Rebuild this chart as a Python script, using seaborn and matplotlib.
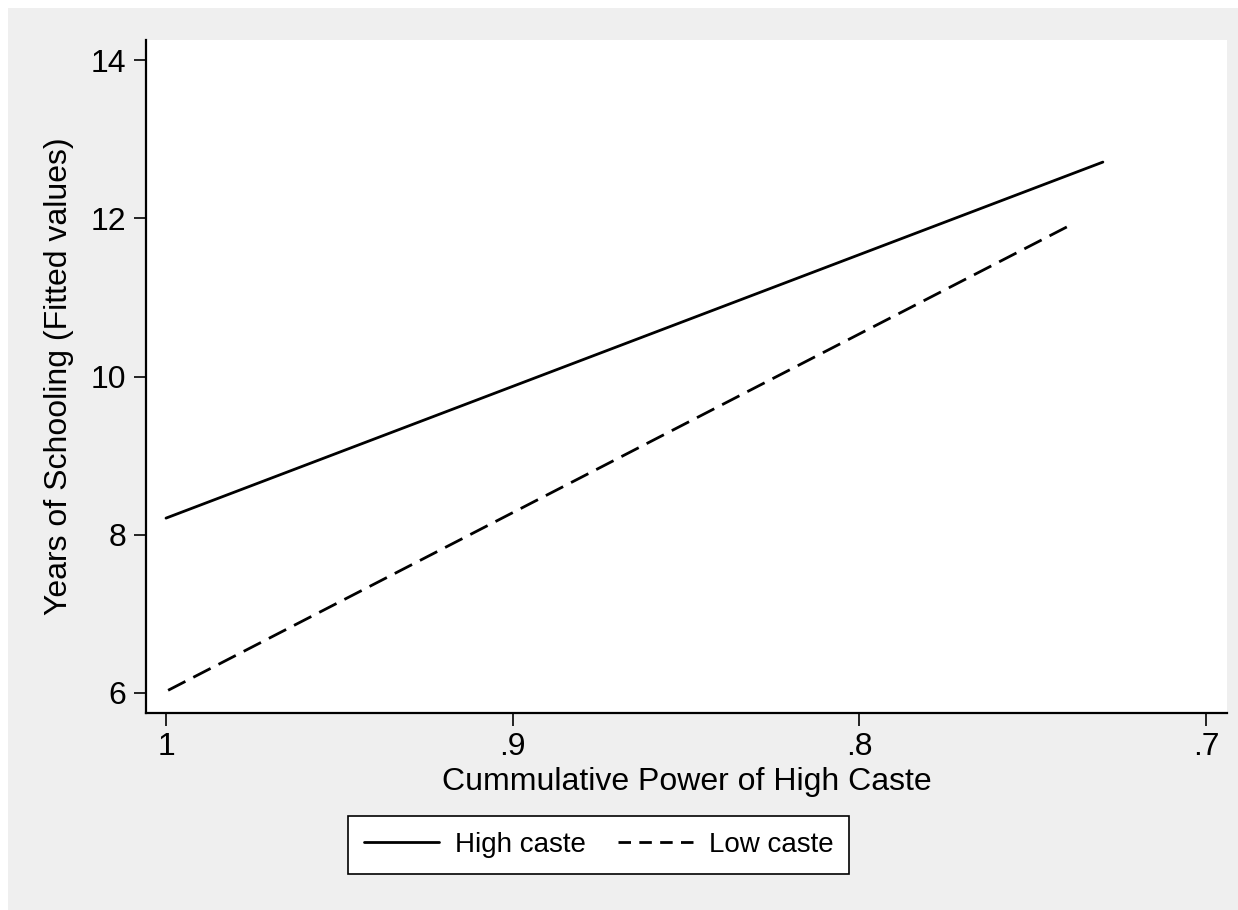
import matplotlib
matplotlib.use("Agg")
import matplotlib.pyplot as plt
import seaborn as sns
import pandas as pd
from matplotlib.patches import Rectangle
from matplotlib.lines import Line2D

# Data (fitted lines, endpoints)
groups = ["High caste", "Low caste"]
high_x = [1.0, 0.7298]
high_y = [8.21, 12.71]
low_x = [1.0, 0.7402]
low_y = [6.02, 11.89]
xticks = [1.0, 0.9, 0.8, 0.7]
xtick_labels = ["1", ".9", ".8", ".7"]
yticks = [6, 8, 10, 12, 14]

df = pd.DataFrame({
    "x": high_x + low_x,
    "y": high_y + low_y,
    "group": [groups[0]] * len(high_x) + [groups[1]] * len(low_x),
})

sns.set_style("white")
plt.rcParams["font.family"] = ["Liberation Sans", "DejaVu Sans"]
plt.rcParams["text.color"] = "black"
FS = 23

W, H = 1238, 910
fig = plt.figure(figsize=(W / 100, H / 100), dpi=100, facecolor="white")
# gray Stata-like graph region
fig.patches.append(Rectangle((8 / W, 0), 1 - 8 / W, 1 - 8 / H, transform=fig.transFigure,
                             facecolor="#efefef", edgecolor="none", zorder=-10))

ax = fig.add_axes([146 / W, 1 - 713 / H, (1227 - 146) / W, (713 - 40) / H])
ax.set_facecolor("white")

dash_map = {"High caste": "", "Low caste": (7, 3.2)}
sns.lineplot(data=df, x="x", y="y", style="group", dashes=dash_map, color="black",
             linewidth=2.0, ax=ax, legend=False)

ax.set_xlim(1.00577, 0.694)
ax.set_ylim(5.747, 14.253)
ax.set_xticks(xticks)
ax.set_xticklabels(xtick_labels)
ax.set_yticks(yticks)
ax.set_yticklabels([str(v) for v in yticks])

for s in ["top", "right"]:
    ax.spines[s].set_visible(False)
for s in ["left", "bottom"]:
    ax.spines[s].set_color("black")
    ax.spines[s].set_linewidth(1.6)

ax.tick_params(axis="both", which="major", direction="out", length=9, width=1.2,
               color="black", labelsize=FS, labelcolor="black", pad=5,
               left=True, bottom=True)
ax.set_xlabel("Cummulative Power of High Caste", fontsize=FS, color="black", labelpad=3)
ax.set_ylabel("Years of Schooling (Fitted values)", fontsize=FS, color="black", labelpad=12)

leg_font = {"family": ["Liberation Sans", "DejaVu Sans"], "size": 20}
handles = [Line2D([], [], color="black", linewidth=2.0),
           Line2D([], [], color="black", linewidth=2.0, dashes=(4.5, 3))]
leg = fig.legend(handles, groups, loc="center", bbox_to_anchor=(598.5 / W, 1 - 845 / H),
                 ncol=2, frameon=True, fancybox=False, edgecolor="black", framealpha=1,
                 prop=leg_font, handlelength=2.7, handletextpad=0.58, labelcolor="black",
                 columnspacing=1.15, borderpad=0.58, borderaxespad=0)
leg.get_frame().set_linewidth(1.2)
leg.get_frame().set_facecolor("white")

fig.savefig("out.png", dpi=100, facecolor="white")
